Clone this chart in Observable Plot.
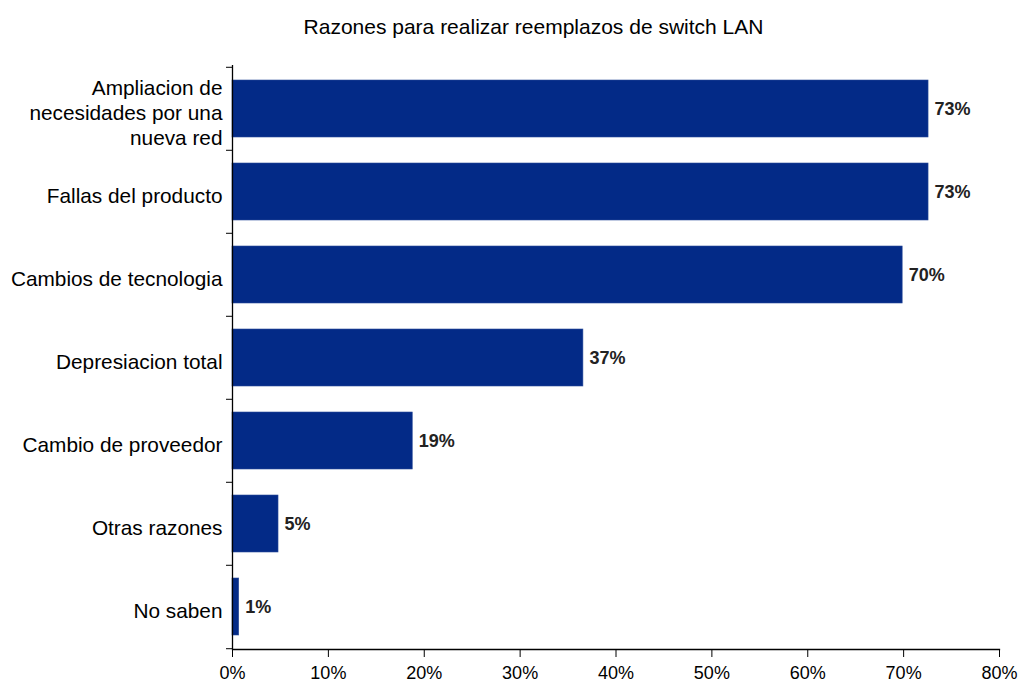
<!DOCTYPE html>
<html>
<head>
<meta charset="utf-8">
<script src="https://cdn.jsdelivr.net/npm/d3@7"></script>
<script src="https://cdn.jsdelivr.net/npm/@observablehq/plot@0.6"></script>
<style>
  html, body { margin: 0; padding: 0; background: #fff; }
  #wrap { width: 1019px; height: 686px; position: relative; font-family: "Liberation Sans", Arial, sans-serif; }
  #title { height: 50px; box-sizing: border-box; padding-top: 15px; padding-left: 48px; text-align: center; font-size: 21px; line-height: 24px; color: #000; }
  svg { white-space: pre; }
</style>
</head>
<body>
<div id="wrap">
  <div id="title">Razones para realizar reemplazos de switch LAN</div>
  <div id="chart"></div>
</div>
<script>
const categories = [
  "Ampliacion de\nnecesidades por una\nnueva red",
  "Fallas del producto",
  "Cambios de tecnologia",
  "Depresiacion total",
  "Cambio de proveedor",
  "Otras razones",
  "No saben"
];
const values = [72.6, 72.6, 69.9, 36.6, 18.8, 4.8, 0.7];
const valueLabels = ["73%", "73%", "70%", "37%", "19%", "5%", "1%"];
const xTicks = [0, 10, 20, 30, 40, 50, 60, 70, 80];
const xTickLabels = ["0%", "10%", "20%", "30%", "40%", "50%", "60%", "70%", "80%"];

const data = categories.map((c, i) => ({cat: c, value: values[i], label: valueLabels[i]}));

const H = 636, mTop = 15, mBottom = 37;
const halfStep = (H - mTop - mBottom) / categories.length / 2;

const chart = Plot.plot({
  width: 1019,
  height: H,
  marginTop: mTop,
  marginBottom: mBottom,
  marginLeft: 232,
  marginRight: 20,
  style: {fontFamily: '"Liberation Sans", Arial, sans-serif', background: "#fff", color: "#000"},
  x: {domain: [0, 80], axis: null, label: null},
  y: {domain: categories, paddingInner: 0.316, paddingOuter: 0.158, align: 0.5, axis: null, label: null},
  marks: [
    Plot.barX(data, {x: "value", y: "cat", fill: "#032a87", stroke: "#2b4c9a", strokeWidth: 0.6}),
    Plot.ruleX([0], {stroke: "#000", strokeWidth: 1.3}),
    Plot.frame({anchor: "bottom", stroke: "#000", strokeWidth: 1.3}),
    Plot.axisX({
      ticks: xTicks,
      tickFormat: d => xTickLabels[xTicks.indexOf(d)],
      tickSize: 8,
      tickPadding: 9,
      fontSize: 18,
      stroke: "#000",
      fill: "#000",
      label: null
    }),
    Plot.axisY({tickSize: 6, tickFormat: () => "", dy: -halfStep, stroke: "#000", label: null}),
    Plot.axisY({ticks: categories.slice(-1), tickSize: 6, tickFormat: () => "", dy: halfStep, stroke: "#000", label: null}),
    Plot.text(categories, {
      y: d => d,
      text: d => d,
      frameAnchor: "left",
      textAnchor: "end",
      dx: -10,
      dy: 3,
      lineHeight: 1.2,
      fontSize: 20.8,
      fill: "#000"
    }),
    Plot.text(data, {
      x: "value",
      y: "cat",
      text: "label",
      textAnchor: "start",
      dx: 6,
      fontSize: 18,
      fontWeight: "bold",
      fill: "#222"
    })
  ]
});
document.getElementById("chart").appendChild(chart);
</script>
</body>
</html>
